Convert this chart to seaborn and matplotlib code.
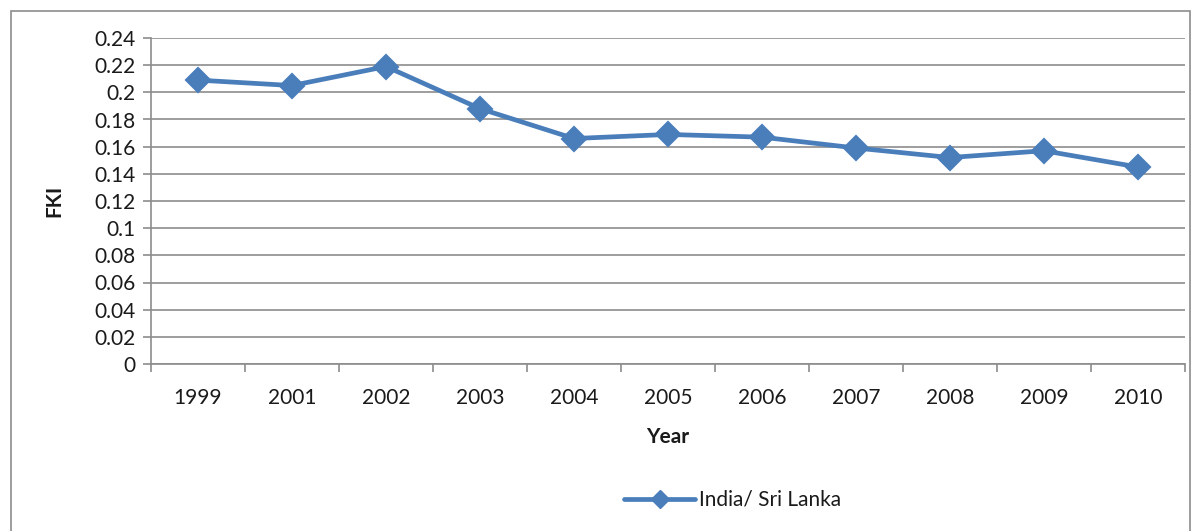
import matplotlib
matplotlib.use("Agg")
import matplotlib.pyplot as plt
import matplotlib.patches as mpatches
from matplotlib.lines import Line2D
import numpy as np
import pandas as pd
import seaborn as sns

years = ["1999", "2001", "2002", "2003", "2004", "2005", "2006", "2007", "2008", "2009", "2010"]
fki = [0.209, 0.205, 0.219, 0.188, 0.166, 0.169, 0.167, 0.159, 0.152, 0.157, 0.145]
series_name = "India/ Sri Lanka"
y_ticks = [0, 0.02, 0.04, 0.06, 0.08, 0.1, 0.12, 0.14, 0.16, 0.18, 0.2, 0.22, 0.24]
y_tick_labels = ["0", "0.02", "0.04", "0.06", "0.08", "0.1", "0.12", "0.14", "0.16", "0.18", "0.2", "0.22", "0.24"]

df = pd.DataFrame({"Year": years, "FKI": fki})

sns.set_style("white")
plt.rcParams["font.family"] = ["Lato", "DejaVu Sans"]

color = "#4A7EBB"
grid_c = "#8C8C8C"
txt_c = "#1a1a1a"
fs = 15

fig = plt.figure(figsize=(12.01, 5.31), dpi=100)
ax = fig.add_axes([151 / 1201, 1 - 364 / 531, (1185 - 151) / 1201, (364 - 38) / 531])

sns.pointplot(data=df, x="Year", y="FKI", order=years, color=color,
              markers="D", linestyles="-", ax=ax, errorbar=None,
              markersize=11, linewidth=3.4, zorder=5)

ax.set_ylim(0, 0.24)
ax.set_xlim(-0.5, len(years) - 0.5)
ax.set_yticks(y_ticks)
ax.set_yticklabels(y_tick_labels)
ax.yaxis.grid(True, color=grid_c, linewidth=1.2)
ax.set_axisbelow(True)
for s in ["top", "right"]:
    ax.spines[s].set_visible(False)
for s in ["left", "bottom"]:
    ax.spines[s].set_color(grid_c)
    ax.spines[s].set_linewidth(1.2)

ax.tick_params(axis="y", which="major", direction="out", length=6, width=1.2,
               color=grid_c, labelsize=fs, labelcolor=txt_c, pad=5, left=True)
ax.set_xticks(np.arange(len(years)))
ax.set_xticklabels(years)
ax.tick_params(axis="x", which="major", length=0, labelsize=fs, labelcolor=txt_c, pad=17)
ax.set_xticks(np.arange(len(years) + 1) - 0.5, minor=True)
ax.tick_params(axis="x", which="minor", direction="out", length=6, width=1.2, color=grid_c, bottom=True)

ax.set_xlabel("Year", fontsize=fs, fontweight="bold", labelpad=14, color=txt_c)
ax.set_ylabel("FKI", fontsize=fs, fontweight="bold", labelpad=22, color=txt_c)

handle = Line2D([], [], color=color, marker="D", markersize=9, linewidth=3.4)
fig.legend([handle], [series_name], loc="center", bbox_to_anchor=(733 / 1201, 1 - 500 / 531),
           frameon=False, fontsize=fs, handlelength=3.4, handletextpad=0.2,
           labelcolor=txt_c)

border = mpatches.Rectangle((11 / 1201, -0.05), (1190 - 11) / 1201, 1.05 - 11 / 531,
                            transform=fig.transFigure, fill=False, edgecolor="#8C8C8C",
                            linewidth=1.2)
fig.patches.append(border)

fig.savefig("out.png", dpi=100)
